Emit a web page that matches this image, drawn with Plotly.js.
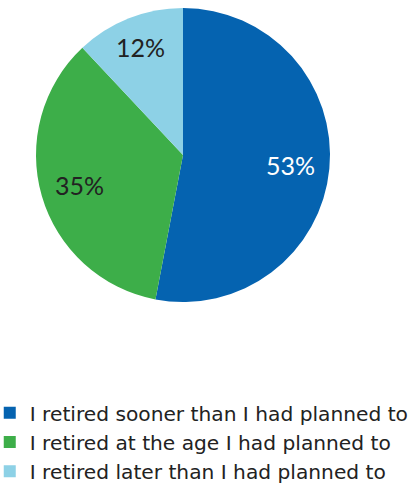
<!DOCTYPE html>
<html>
<head>
<meta charset="utf-8">
<script src="https://cdn.plot.ly/plotly-3.0.1.min.js"></script>
<style>html,body{margin:0;padding:0;background:#fff;}#chart{width:410px;height:493px;}</style>
</head>
<body>
<div id="chart"></div>
<script>
const categories = [
  "I retired sooner than I had planned to",
  "I retired at the age I had planned to",
  "I retired later than I had planned to"
];
const shares = [53, 35, 12];
const sliceColors = ["#0563B0", "#3DAE49", "#8DD1E6"];
const textColors = ["#FFFFFF", "#222222", "#222222"];

// pie geometry (layout, px)
const W = 410, H = 493;
const cx = 183, cy = 155, R = 147;
const labelFrac = [0.733, 0.733, 0.79];
const legendTop = 393; // legend (container ref) reserves the space below this as bottom margin

const trace = {
  type: "pie",
  labels: categories,
  values: shares,
  sort: false,
  direction: "clockwise",
  rotation: 0,
  marker: { colors: sliceColors, line: { color: "#FFFFFF", width: 0 } },
  textinfo: "none",
  hoverinfo: "label+percent",
  domain: { x: [(cx - R) / W, (cx + R) / W], y: [1 - (cy + R) / legendTop, 1 - (cy - R) / legendTop] }
};

// percentage labels placed at each slice's mid-angle, derived from the data
const total = shares.reduce((a, b) => a + b, 0);
let cum = 0;
const annotations = shares.map((v, i) => {
  const mid = (cum + v / 2) / total * 2 * Math.PI;
  cum += v;
  const px = cx + labelFrac[i] * R * Math.sin(mid);
  const py = cy - labelFrac[i] * R * Math.cos(mid);
  return {
    xref: "paper", yref: "paper",
    x: px / W, y: 1 - py / legendTop,
    xanchor: "center", yanchor: "middle",
    text: Math.round(v / total * 100) + "%",
    showarrow: false,
    font: { family: "Lato, 'Open Sans', sans-serif", size: 25, color: textColors[i] }
  };
});

const layout = {
  width: W,
  height: H,
  margin: { l: 0, r: 0, t: 0, b: 0 },
  paper_bgcolor: "#FFFFFF",
  showlegend: true,
  annotations: annotations,
  legend: {
    orientation: "v",
    xref: "paper",
    yref: "container",
    x: -0.025,
    xanchor: "left",
    y: 1 - legendTop / H,
    yanchor: "top",
    font: { family: "'DejaVu Sans', Verdana, sans-serif", size: 20.2, color: "#222222" },
    itemclick: false
  }
};

Plotly.newPlot("chart", [trace], layout, { displayModeBar: false, staticPlot: true });
</script>
</body>
</html>
